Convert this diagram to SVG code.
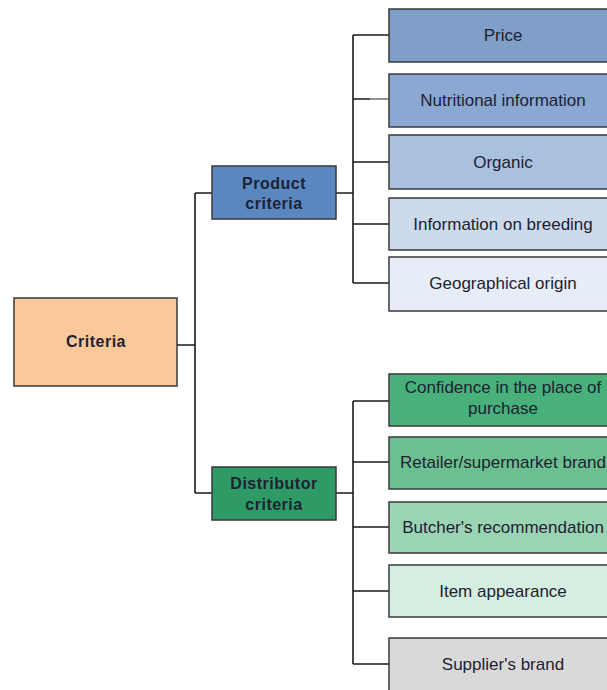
<svg xmlns="http://www.w3.org/2000/svg" width="607" height="690" viewBox="0 0 607 690">
<style>
.box{stroke:#3a3a3a;stroke-width:1.5}
.t{font-family:"Liberation Sans",Arial,sans-serif;font-size:17px;fill:#1e2233;text-anchor:middle}
.b{font-weight:bold;font-size:16px;letter-spacing:0.5px}
.c{fill:none;stroke:#1a1a1a;stroke-width:1.6}
</style>
<rect width="607" height="690" fill="#ffffff"/>
<g id="connectors">
<path class="c" d="M177 345H195M195 193V493M195 193H212M195 493H212"/>
<path class="c" d="M336 193H353M353 35V283M353 35H389M353 162H389M353 224H389M353 283H389M353 99H370"/>
<path d="M370 99H389" fill="none" stroke="#777" stroke-width="1.6"/>
<path class="c" d="M336 493H353M353 401V664M353 401H389M353 462H389M353 527H389M353 591H389M353 664H389"/>
</g>
<g id="criteria"><rect class="box" x="14" y="298" width="163" height="88" fill="#fac89b"/><text class="t b" x="96" y="347">Criteria</text></g>
<g id="product"><rect class="box" x="212" y="166" width="124" height="53" fill="#5b87c1"/><text class="t b" x="274" y="189">Product</text><text class="t b" x="274" y="209">criteria</text></g>
<g id="distributor"><rect class="box" x="212" y="467" width="124" height="53" fill="#2e9b67"/><text class="t b" x="274" y="489">Distributor</text><text class="t b" x="274" y="510">criteria</text></g>
<g id="price"><rect class="box" x="389" y="9" width="230" height="53" fill="#7f9fc9"/><text class="t" x="503" y="41">Price</text></g>
<g id="nutritional"><rect class="box" x="389" y="74" width="230" height="53" fill="#8aa8d1"/><text class="t" x="503" y="106">Nutritional information</text></g>
<g id="organic"><rect class="box" x="389" y="135" width="230" height="54" fill="#a9c0de"/><text class="t" x="503" y="168">Organic</text></g>
<g id="breeding"><rect class="box" x="389" y="198" width="230" height="52" fill="#ccdaec"/><text class="t" x="503" y="230">Information on breeding</text></g>
<g id="origin"><rect class="box" x="389" y="257" width="230" height="54" fill="#e6edf6"/><text class="t" x="503" y="289">Geographical origin</text></g>
<g id="confidence"><rect class="box" x="389" y="374" width="230" height="52" fill="#48b07a"/><text class="t" x="503" y="393">Confidence in the place of</text><text class="t" x="503" y="414">purchase</text></g>
<g id="retailer"><rect class="box" x="389" y="437" width="230" height="52" fill="#6cc08f"/><text class="t" x="503" y="468">Retailer/supermarket brand</text></g>
<g id="butcher"><rect class="box" x="389" y="502" width="230" height="51" fill="#9ad4b2"/><text class="t" x="503" y="533">Butcher's recommendation</text></g>
<g id="appearance"><rect class="box" x="389" y="565" width="230" height="52" fill="#d4eee0"/><text class="t" x="503" y="597">Item appearance</text></g>
<g id="supplier"><rect class="box" x="389" y="638" width="230" height="60" fill="#d9d9d9"/><text class="t" x="503" y="670">Supplier's brand</text></g>
</svg>
